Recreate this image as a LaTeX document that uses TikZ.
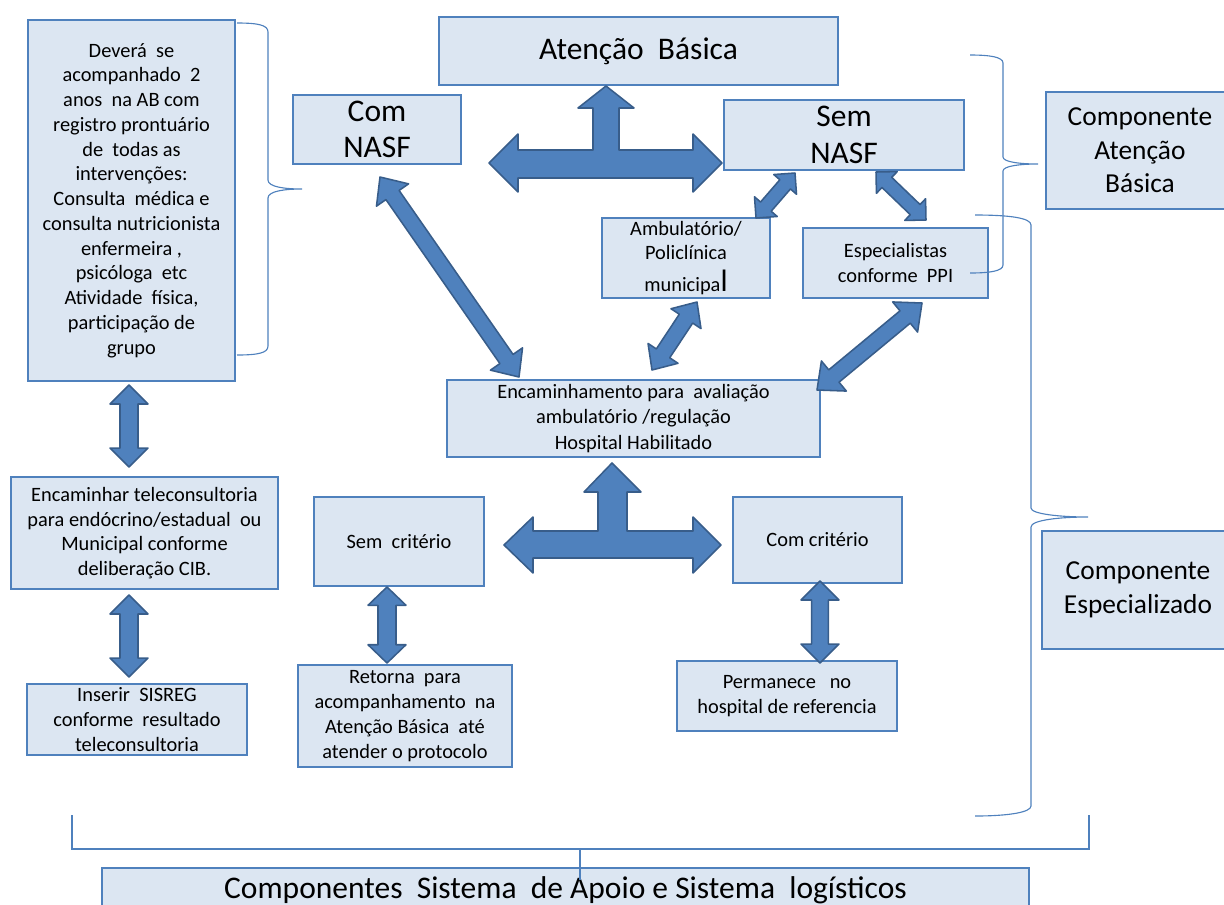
\documentclass[tikz,border=0pt]{standalone}
\usepackage{fontspec}
\setmainfont{Carlito}
\usetikzlibrary{calc}
\definecolor{bfill}{RGB}{220,230,242}
\definecolor{bbord}{RGB}{79,129,189}
\definecolor{afill}{RGB}{79,129,189}
\definecolor{aline}{RGB}{56,93,138}
\definecolor{brc}{RGB}{79,129,189}
\newcommand\fsBody{\fontsize{14.5}{17.6}\selectfont}
\newcommand\fsBig{\fontsize{22.4}{26}\selectfont}
\newcommand\fsComp{\fontsize{19.5}{23.8}\selectfont}
% box: name, x1, y1, x2, y2, extra style, text
\newcommand\bx[7]{\node[box,#6,minimum width={(#4-#2)*0.025cm},minimum height={(#5-#3)*0.025cm}] (#1) at ({(#2+#4)/2},{(#3+#5)/2}) {#7};}
% double block arrow: from, to, shaft half width, head half width, head length
\newcommand\dblarr[5]{%
  \coordinate (A1) at ($(#1)!#5!(#2)$);
  \coordinate (A2) at ($(#2)!#5!(#1)$);
  \draw[blockarrow] (#1) -- ($(A1)!#4!90:(#2)$) -- ($(A1)!#3!90:(#2)$) -- ($(A2)!#3!-90:(#1)$) -- ($(A2)!#4!-90:(#1)$) -- (#2)
    -- ($(A2)!#4!90:(#1)$) -- ($(A2)!#3!90:(#1)$) -- ($(A1)!#3!-90:(#2)$) -- ($(A1)!#4!-90:(#2)$) -- cycle;}
\begin{document}
\begin{tikzpicture}[x=0.025cm,y=-0.025cm,
  box/.style={draw=bbord,fill=bfill,line width=2pt,inner sep=0pt,align=center,font=\fsBody},
  big/.style={font=\fsBig},
  comp/.style={font=\fsComp},
  blockarrow/.style={fill=afill,draw=aline,line width=1.1pt,line join=round},
  brace/.style={draw=brc,line width=0.8pt}]
\useasboundingbox (0,0) rectangle (1224,904);

% boxes
\bx{left}{28}{20}{235}{381}{}{Deverá\ \ se\\acompanhado\ \ 2\\anos\ \ na AB com\\registro prontuário\\de\ \ todas as\\intervenções:\\Consulta\ \ médica e\\consulta nutricionista\\enfermeira ,\\psicóloga\ \ etc\\Atividade\ \ física,\\participação de\\grupo}
\bx{ab}{439}{17}{838}{85}{big}{Atenção\ \ Básica}
\bx{comnasf}{293}{95}{461}{164}{big}{Com\\NASF}
\bx{semnasf}{724}{100}{964}{170}{big}{Sem\\NASF}
\bx{amb}{602}{218}{770}{298}{}{Ambulatório/\\Policlínica\\[5pt]municipa{\fontsize{22}{22}\selectfont l}}
\bx{esp}{803}{228}{988}{298}{}{Especialistas\\conforme\ \ PPI}
\bx{cab}{1046}{92}{1234}{209}{comp}{Componente\\Atenção\\Básica}
\bx{enc}{447}{380}{820}{457}{font=\fontsize{14.5}{18.2}\selectfont}{Encaminhamento para\ \ avaliação\\ambulatório /regulação\\Hospital Habilitado}
\bx{tele}{11}{477}{278}{589}{}{Encaminhar teleconsultoria\\para endócrino/estadual\ \ ou\\Municipal conforme\\deliberação CIB.}
\bx{sis}{27}{684}{247}{755}{}{Inserir\ \ SISREG\\conforme\ \ resultado\\teleconsultoria}
\bx{semc}{314}{497}{484}{586}{}{Sem\ \ critério}
\bx{comc}{733}{497}{902}{583}{}{Com critério}
\bx{ret}{298}{665}{512}{767}{}{Retorna\ \ para\\acompanhamento\ \ na\\Atenção Básica\ \ até\\atender o protocolo}
\bx{perm}{677}{661}{897}{731}{}{Permanece\ \ \ no\\hospital de referencia}
\bx{cesp}{1042}{531}{1234}{649}{comp}{Componente\\Especializado}
\bx{apoio}{102}{868}{1029}{912}{big}{Componentes\ \ Sistema\ \ de Apoio e Sistema\ \ logísticos}

% T-shaped block arrows
\draw[blockarrow] (489,163) -- (518,134) -- (518,150) -- (593,150) -- (593,108) -- (578,108) -- (606,86) -- (634,108) -- (619,108) -- (619,150) -- (693,150) -- (693,134) -- (722,163) -- (693,192) -- (693,178) -- (518,178) -- (518,192) -- cycle;
\draw[blockarrow] (504,545) -- (533,517) -- (533,531) -- (598,531) -- (598,492) -- (584,492) -- (612,463) -- (641,492) -- (627,492) -- (627,531) -- (693,531) -- (693,517) -- (721,545) -- (693,573) -- (693,558) -- (533,558) -- (533,573) -- cycle;

% arrow end points
\coordinate (cnA) at (380,177);  \coordinate (cnB) at (519,377);
\coordinate (amA) at (756,218);  \coordinate (amB) at (795,173);
\coordinate (esA) at (876,172);  \coordinate (esB) at (926,220);
\coordinate (aeA) at (697,302);  \coordinate (aeB) at (652,370);
\coordinate (eeA) at (922,303);  \coordinate (eeB) at (817,390);
\coordinate (l1A) at (129,385);  \coordinate (l1B) at (129,467);
\coordinate (l2A) at (129,595);  \coordinate (l2B) at (129,677);
\coordinate (scA) at (387,587);  \coordinate (scB) at (387,663);
\coordinate (ccA) at (820,581);  \coordinate (ccB) at (820,663);

\dblarr{cnA}{cnB}{5.7pt}{13.9pt}{15.6pt}
\dblarr{amA}{amB}{5pt}{10.7pt}{10.7pt}
\dblarr{esA}{esB}{5pt}{10.7pt}{10.7pt}
\dblarr{aeA}{aeB}{5.7pt}{12.8pt}{14.2pt}
\dblarr{eeA}{eeB}{5.7pt}{13.9pt}{15.6pt}
\dblarr{l1A}{l1B}{6.4pt}{13.5pt}{13.5pt}
\dblarr{l2A}{l2B}{6.4pt}{13.5pt}{13.5pt}
\dblarr{scA}{scB}{6.4pt}{13.5pt}{13pt}
\dblarr{ccA}{ccB}{6pt}{13.5pt}{13.5pt}

% braces
\draw[brace] (237,23) .. controls (258,23) and (268,25) .. (268,32) -- (268,180) .. controls (268,187) and (285,189) .. (302,189) .. controls (285,189) and (268,191) .. (268,198) -- (268,346) .. controls (268,353) and (258,355) .. (237,355);
\draw[brace] (970,55) .. controls (990,55) and (1003,57) .. (1003,63) -- (1003,157) .. controls (1003,162) and (1020,164) .. (1038,164) .. controls (1020,164) and (1003,166) .. (1003,171) -- (1003,265) .. controls (1003,271) and (990,273) .. (970,273);
\draw[brace] (975,215) .. controls (1010,215) and (1031,218) .. (1031,225) -- (1031,508) .. controls (1031,514) and (1060,517) .. (1088,517) .. controls (1060,517) and (1031,520) .. (1031,527) -- (1031,806) .. controls (1031,812) and (1010,816) .. (975,816);
\draw[brace] (72,815) -- (72,849) -- (1089,849) -- (1089,815);
\draw[brace] (580,849) -- (580,880);
\end{tikzpicture}
\end{document}
